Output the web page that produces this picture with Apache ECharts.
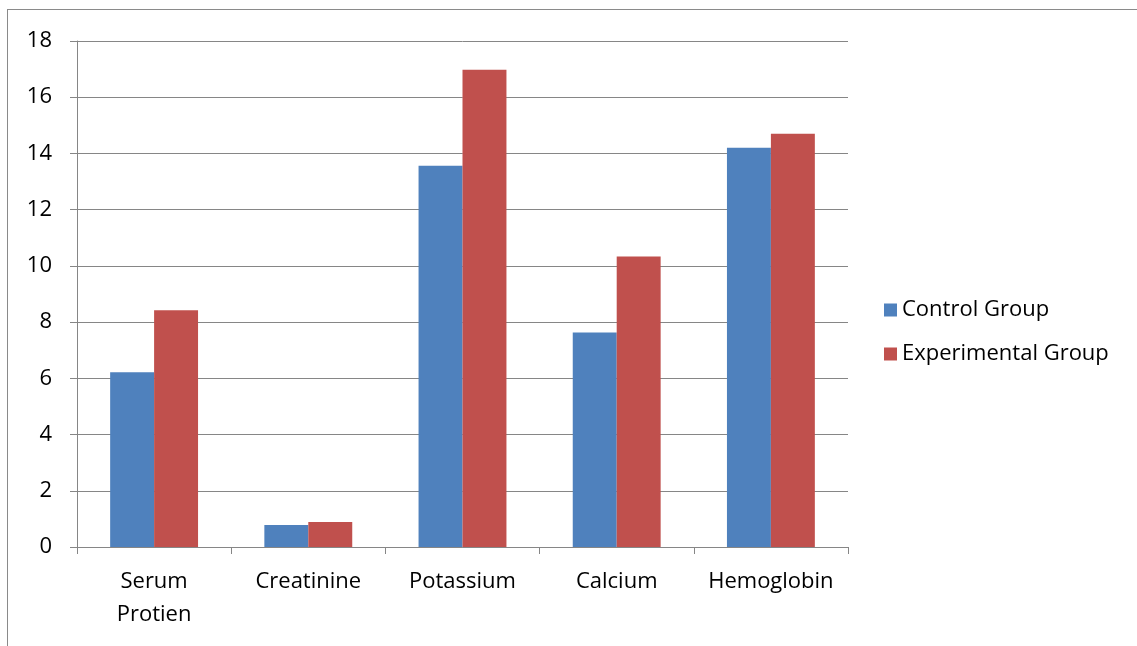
<!DOCTYPE html>
<html>
<head>
<meta charset="utf-8">
<script src="https://cdn.jsdelivr.net/npm/echarts@6/dist/echarts.min.js"></script>
<style>
  html, body { margin: 0; padding: 0; background: #fff; }
  #frame { position: absolute; left: 7px; top: 9px; width: 1130px; height: 637px; border-left: 1px solid #8a8a8a; border-top: 1px solid #8a8a8a; box-sizing: border-box; }
  #chart { position: absolute; left: 0; top: 0; width: 1137px; height: 646px; }
</style>
</head>
<body>
<div id="frame"></div>
<div id="chart"></div>
<script>
(function () {
  "use strict";

  var categories = ["Serum\nProtien", "Creatinine", "Potassium", "Calcium", "Hemoglobin"];
  var controlGroup = [6.22, 0.78, 13.56, 7.63, 14.2];
  var experimentalGroup = [8.42, 0.89, 16.98, 10.33, 14.7];
  var seriesNames = ["Control Group", "Experimental Group"];

  var AXIS = "#868686";
  var FONT = "Open Sans, sans-serif";
  var TEXT = "#000";

  var chart = echarts.init(document.getElementById("chart"));
  chart.setOption({
    backgroundColor: "transparent",
    animation: false,
    textStyle: { fontFamily: FONT, color: TEXT },
    grid: { left: 77, right: 289, top: 41, bottom: 99 },
    legend: {
      orient: "vertical",
      left: 879,
      top: 294,
      itemWidth: 13,
      itemHeight: 13,
      itemGap: 22,
      icon: "rect",
      textStyle: { fontFamily: FONT, fontSize: 22, color: TEXT, padding: [0, 0, 0, 0] },
      data: seriesNames
    },
    xAxis: {
      type: "category",
      data: categories,
      axisLine: { lineStyle: { color: AXIS, width: 1 } },
      axisTick: { show: true, length: 7, lineStyle: { color: AXIS } },
      axisLabel: { color: TEXT, fontSize: 22, fontFamily: FONT, margin: 18, lineHeight: 33, interval: 0 },
      splitLine: { show: false }
    },
    yAxis: {
      type: "value",
      min: 0,
      max: 18,
      interval: 2,
      axisLine: { show: true, lineStyle: { color: AXIS, width: 1 } },
      axisTick: { show: true, length: 7, lineStyle: { color: AXIS } },
      axisLabel: { color: TEXT, fontSize: 22, fontFamily: FONT, margin: 25 },
      splitLine: { lineStyle: { color: AXIS, width: 1 } }
    },
    series: [
      {
        name: seriesNames[0],
        type: "bar",
        data: controlGroup,
        barCategoryGap: "43%",
        barGap: "0%",
        itemStyle: { color: "#4F81BD" }
      },
      {
        name: seriesNames[1],
        type: "bar",
        data: experimentalGroup,
        barCategoryGap: "43%",
        barGap: "0%",
        itemStyle: { color: "#C0504D" }
      }
    ]
  });
})();
</script>
</body>
</html>
